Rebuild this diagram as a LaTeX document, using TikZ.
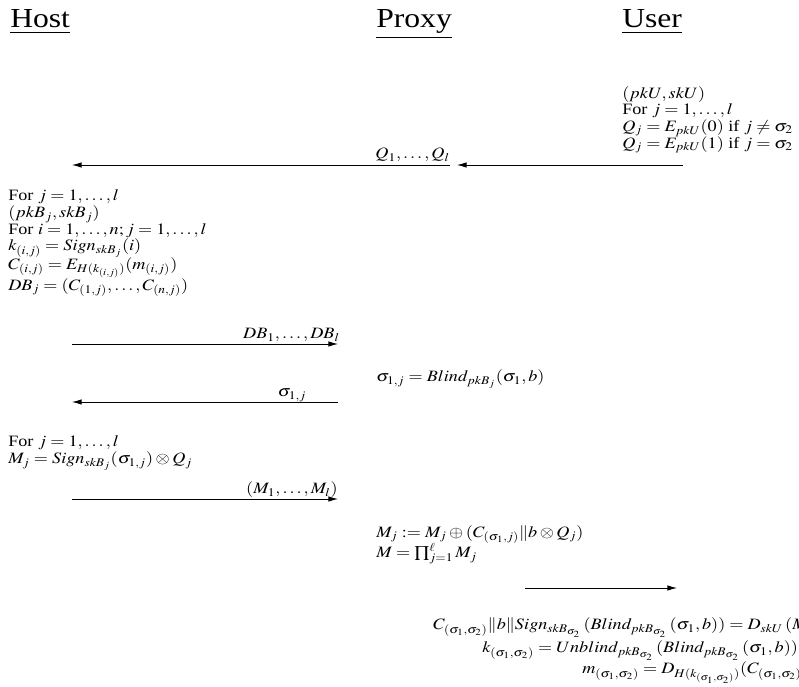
\documentclass[tikz,border=0pt]{standalone}
\usepackage{mathptmx}
\usepackage[no-math]{fontspec}
\setmainfont{Liberation Serif}
\usepackage{graphicx}
\usetikzlibrary{arrows.meta}
% all lettering is set slightly widened
\newcommand{\widen}[1]{\scalebox{1.15}[1]{#1}}
\newcommand{\lines}[1]{\widen{\begin{tabular}{@{}l@{}}#1\end{tabular}}}
\begin{document}
\begin{tikzpicture}[x=0.7273pt,y=-0.7273pt,
  every node/.style={font=\fontsize{11.5}{12}\selectfont},
  head/.style={font=\fontsize{20}{24}\selectfont, anchor=base west, inner sep=0},
  blk/.style={anchor=north west, inner sep=0},
  eqn/.style={anchor=base west, inner sep=0},
  lbl/.style={inner sep=0},
  msg/.style={-{Latex[length=7pt,width=4pt]}, line width=0.6pt}]
\useasboundingbox (0,0) rectangle (799,687);

% party headings
\node[head] (host)  at (10,28)  {\widen{\underline{Host}}};
\node[head] (proxy) at (376,28) {\widen{\underline{Proxy}}};
\node[head] (user)  at (622,28) {\widen{\underline{User}}};

% user: key pair and query vector
\node[blk] (userinit) at (622,86) {\lines{$(pkU,skU)$\\
  For $j=1,\ldots,l$\\
  $Q_j=E_{pkU}(0)$ if $j\neq\sigma_2$\\
  $Q_j=E_{pkU}(1)$ if $j=\sigma_2$}};

% queries forwarded user -> proxy -> host
\coordinate (uq)  at (683,165);
\coordinate (pqi) at (457,165);
\coordinate (pqo) at (450,165);
\coordinate (hq)  at (72,165);
\draw[msg] (uq) -- (pqi);
\draw[msg] (pqo) -- (hq);
\node[lbl, anchor=base east] (qlab) at (450,159) {\widen{$Q_1,\ldots,Q_l$}};

% host: database encryption
\node[blk] (hostdb) at (8,189) {\lines{For $j=1,\ldots,l$\\
  $(pkB_j,skB_j)$\\
  For $i=1,\ldots,n; j=1,\ldots,l$\\
  $k_{(i,j)}=Sign_{skB_j}(i)$\\
  $C_{(i,j)}=E_{H(k_{(i,j)})}(m_{(i,j)})$\\
  $DB_j=(C_{(1,j)},\ldots,C_{(n,j)})$}};

% databases host -> proxy
\coordinate (hdb) at (72,344);
\coordinate (pdb) at (338,344);
\draw[msg] (hdb) -- (pdb);
\node[lbl, anchor=base east] (dblab) at (340,339) {\widen{$DB_1,\ldots,DB_l$}};

% proxy: blinding
\node[eqn] (blind) at (376,382) {\widen{$\sigma_{1,j}=Blind_{pkB_j}(\sigma_1,b)$}};

% blinded values proxy -> host
\coordinate (psg) at (338,402);
\coordinate (hsg) at (72,402);
\draw[msg] (psg) -- (hsg);
\node[lbl, anchor=base] (sglab) at (292,397) {\widen{$\sigma_{1,j}$}};

% host: signing
\node[blk] (hostsign) at (8,435) {\lines{For $j=1,\ldots,l$\\
  $M_j=Sign_{skB_j}(\sigma_{1,j})\otimes Q_j$}};

% responses host -> proxy
\coordinate (hm) at (72,499);
\coordinate (pm) at (338,499);
\draw[msg] (hm) -- (pm);
\node[lbl, anchor=base east] (mlab) at (338,494) {\widen{$(M_1,\ldots,M_l)$}};

% proxy: combining
\node[blk] (combine) at (376,525) {\lines{$M_j:=M_j\oplus(C_{(\sigma_1,j)}\|b\otimes Q_j)$\\
  $M=\prod_{j=1}^{\ell}M_j$}};

% result proxy -> user
\coordinate (pu) at (525,588);
\coordinate (uu) at (677,588);
\draw[msg] (pu) -- (uu);

% user: decryption
\node[eqn] (dec1) at (433,630) {\widen{$C_{(\sigma_1,\sigma_2)}\|b\|Sign_{skB_{\sigma_2}}\,(Blind_{pkB_{\sigma_2}}\,(\sigma_1,b))=D_{skU}\,(M)$}};
\node[eqn] (dec2) at (482,653) {\widen{$k_{(\sigma_1,\sigma_2)}=Unblind_{pkB_{\sigma_2}}\,(Blind_{pkB_{\sigma_2}}\,(\sigma_1,b))$}};
\node[eqn] (dec3) at (582,674) {\widen{$m_{(\sigma_1,\sigma_2)}=D_{H(k_{(\sigma_1,\sigma_2)})}(C_{(\sigma_1,\sigma_2)})$}};
\end{tikzpicture}
\end{document}
